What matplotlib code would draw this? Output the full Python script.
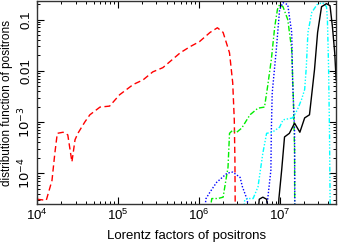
import matplotlib
matplotlib.use('Agg')
import matplotlib.pyplot as plt
from matplotlib.ticker import LogLocator, NullFormatter

plt.rcParams['font.family'] = ['Liberation Sans', 'DejaVu Sans']

# red dashed
red_g = [1.0e4, 1.3e4, 1.53e4, 1.66e4, 1.78e4, 2.1e4, 2.4e4, 2.7e4, 2.95e4, 3.2e4,
         3.9e4, 4.5e4, 6.0e4, 7.9e4, 1.05e5, 1.55e5, 2.04e5, 2.7e5, 3.6e5, 5.9e5,
         7.8e5, 1.02e6, 1.38e6, 1.7e6, 2.0e6, 2.4e6, 2.63e6, 2.75e6, 2.8e6, 2.85e6]
red_f = [3.1e-5, 2.95e-5, 7.2e-5, 2.45e-4, 6.0e-4, 6.3e-4, 5.6e-4, 1.66e-4, 4.5e-4, 6.0e-4,
         1.0e-3, 1.38e-3, 1.95e-3, 2.04e-3, 3.4e-3, 5.4e-3, 6.6e-3, 9.5e-3, 1.15e-2, 2.24e-2,
         2.95e-2, 3.7e-2, 5.6e-2, 6.9e-2, 5.6e-2, 2.24e-2, 5.8e-3, 1.1e-3, 1.8e-4, 2e-6]

# green dash-dot
green_g = [1.29e6, 1.45e6, 1.72e6, 2.0e6, 2.3e6, 2.4e6, 2.63e6, 2.95e6, 3.4e6, 4.3e6,
           5.4e6, 6.5e6, 7.1e6, 7.9e6, 8.7e6, 9.4e6, 1.0e7, 1.1e7, 1.26e7, 1.41e7,
           1.48e7, 1.53e7, 1.54e7]
green_f = [1e-5, 3.2e-5, 3.2e-5, 3.4e-5, 1.3e-4, 6.0e-4, 6.9e-4, 6.3e-4, 7.6e-4, 1.38e-3,
           1.86e-3, 1.95e-3, 4.9e-3, 1.66e-2, 7.2e-2, 0.158, 0.195, 0.178, 0.1, 2.6e-2,
           2.7e-3, 2.8e-4, 2e-6]

# blue dotted
blue_g = [1.12e6, 1.23e6, 1.38e6, 1.66e6, 2.24e6, 2.63e6, 3.24e6, 3.47e6, 3.98e6, 4.3e6,
          6.0e6, 7.1e6, 7.8e6, 7.9e6, 8.1e6, 9.1e6, 1.0e7, 1.1e7, 1.26e7, 1.41e7,
          1.45e7, 1.53e7, 1.55e7]
blue_f = [1e-5, 3.2e-5, 4.3e-5, 6.6e-5, 1.0e-4, 1.05e-4, 8.3e-5, 5.4e-5, 3.0e-5, 1e-5,
          1e-5, 3.0e-5, 1.15e-4, 6.9e-4, 3.7e-3, 2.6e-2, 0.158, 0.214, 0.195, 5.6e-2,
          5.8e-3, 6.9e-4, 2e-6]

# black solid
black_g = [5.25e6, 5.6e6, 6.2e6, 6.9e6, 7.6e6, 9.4e6, 9.8e6, 1.06e7, 1.15e7, 1.32e7,
           1.53e7, 1.78e7, 2.04e7, 2.34e7, 2.7e7, 2.95e7, 3.3e7, 3.8e7, 4.2e7, 4.5e7,
           4.8e7, 5.0e7]
black_f = [1e-5, 3.1e-5, 3.4e-5, 3.1e-5, 1e-5, 1e-5, 3.2e-5, 1.15e-4, 5.1e-4, 6.0e-4,
           9.5e-4, 6.3e-4, 1.2e-3, 1.38e-3, 1.05e-2, 5.6e-2, 0.178, 0.204, 0.186, 7.2e-2,
           2.24e-2, 6.6e-3]

# cyan dash-dot-dot-dot
cyan_g = [3.47e6, 3.7e6, 3.98e6, 4.7e6, 5.4e6, 6.2e6, 6.9e6, 8.1e6, 1.0e7, 1.1e7,
          1.45e7, 1.66e7, 1.86e7, 2.04e7, 2.14e7, 2.24e7, 2.5e7, 2.9e7, 3.4e7, 3.8e7,
          3.9e7, 4.03e7, 4.14e7, 4.27e7]
cyan_f = [1e-5, 3.0e-5, 3.2e-5, 3.2e-5, 5.4e-5, 2.45e-4, 6.0e-4, 6.3e-4, 7.9e-4, 1.1e-3,
          1.2e-3, 1.74e-3, 2.7e-3, 4.3e-3, 1.2e-2, 5.6e-2, 0.138, 0.195, 0.214, 0.178,
          0.1, 1.2e-2, 6.0e-4, 2e-6]

ytick_vals = [1e-4, 1e-3, 1e-2, 1e-1]
ytick_labels = [r'$10^{-4}$', r'$10^{-3}$', '0.01', '0.1']

fig = plt.figure(figsize=(3.43, 2.47), dpi=100)
ax = fig.add_axes([0.108, 0.174, 0.872, 0.822])

lw = 1.0
ax.plot(red_g, red_f, color='#ff0000', lw=lw, dashes=(4.5, 2.5))
ax.plot(green_g, green_f, color='#00ee00', lw=lw, dashes=(4, 1.5, 1, 1.5))
ax.plot(blue_g, blue_f, color='#0000ff', lw=lw, dashes=(1, 1.3))
ax.plot(cyan_g, cyan_f, color='#00ffff', lw=lw, dashes=(3.5, 1.3, 1, 1.3, 1, 1.3, 1, 1.3))
ax.plot(black_g, black_f, color='black', lw=lw)

ax.set_xscale('log')
ax.set_yscale('log')
ax.set_xlim(1e4, 5e7)
ax.set_ylim(2.5e-5, 0.23)

ax.set_yticks(ytick_vals)
ax.set_yticklabels(ytick_labels, rotation=90, va='center')
ax.yaxis.set_minor_locator(LogLocator(base=10, subs=range(2, 10), numticks=20))
ax.yaxis.set_minor_formatter(NullFormatter())
ax.xaxis.set_major_locator(LogLocator(base=10, numticks=10))
ax.xaxis.set_minor_locator(LogLocator(base=10, subs=range(2, 10), numticks=20))
ax.xaxis.set_minor_formatter(NullFormatter())

ax.tick_params(which='both', direction='in', top=True, right=True, labelsize=9.5)
ax.tick_params(which='major', length=5, width=0.8, pad=3)
ax.tick_params(which='minor', length=2.5, width=0.7)
for sp in ax.spines.values():
    sp.set_linewidth(1.0)
    sp.set_color('#333333')

ax.set_xlabel('Lorentz factors of positrons', fontsize=9.5, labelpad=5)
ax.set_ylabel('distribution function of positrons', fontsize=8.5, labelpad=2)

fig.savefig('out.png', dpi=100)
